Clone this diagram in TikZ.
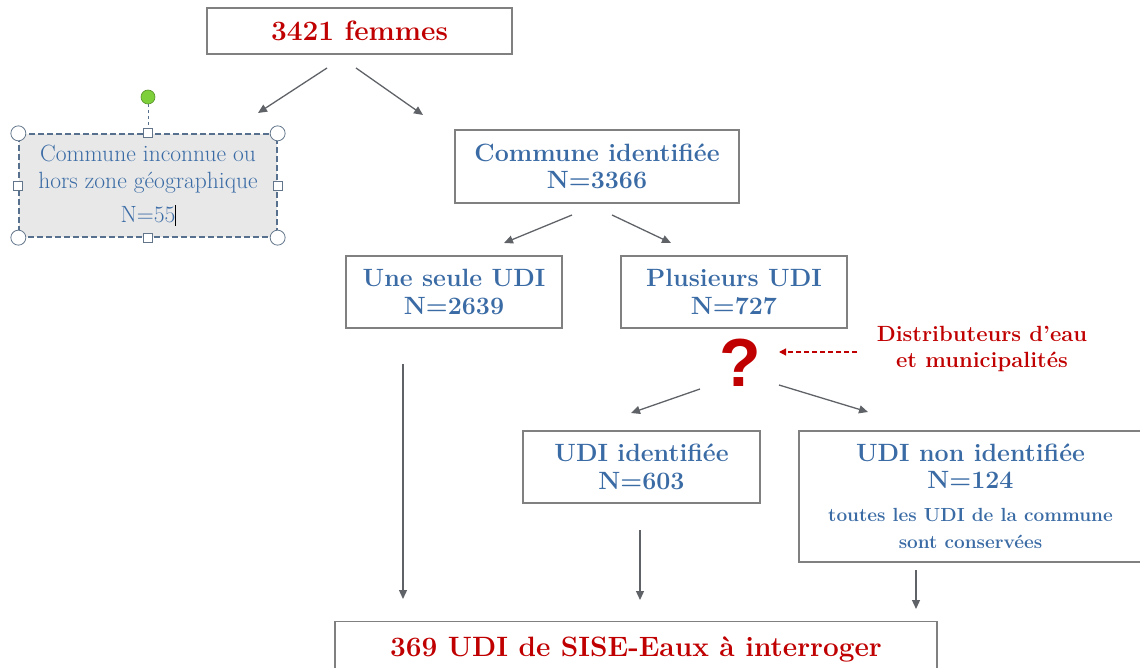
\documentclass[tikz,border=0pt]{standalone}
\usepackage{fontspec}
\newfontfamily\qfont{Liberation Sans}
\usetikzlibrary{arrows.meta}
\definecolor{tblue}{HTML}{3A6BA5}
\definecolor{tred}{HTML}{C00000}
\definecolor{boxgray}{HTML}{808080}
\definecolor{arrgray}{HTML}{5F6368}
\definecolor{selblue}{HTML}{56708E}
\definecolor{selfill}{HTML}{E8E8E8}
\definecolor{handlegreen}{HTML}{7ED03B}
\newcommand{\smalltxt}{\fontsize{19}{23}\selectfont}
\begin{document}
\begin{tikzpicture}[x=1pt,y=-1pt,
  box/.style={draw=boxgray, line width=1.4pt, fill=white, inner sep=0pt, align=center},
  bluetxt/.style={text=tblue, font=\fontsize{25}{27.5}\selectfont\bfseries},
  redtxt/.style={text=tred, font=\fontsize{28}{30}\selectfont\bfseries},
  arr/.style={draw=arrgray, line width=1.3pt, -{Triangle[length=9pt,width=8pt]}},
  handle/.style={draw=selblue!70!gray, fill=white, line width=0.8pt},
]
\useasboundingbox (0,0) rectangle (1140,668);

% boxes
\node[box, redtxt, minimum width=305pt, minimum height=46pt] (top) at (359.5,31) {3421 femmes};

\node[draw=selblue, dash pattern=on 6pt off 3pt, line width=1.3pt, fill=selfill, inner sep=0pt, align=center,
      minimum width=258pt, minimum height=103pt, text=tblue,
      font=\fontsize{23.5}{27}\selectfont] (left) at (148,185.5)
  {Commune inconnue ou\\hors zone géographique\\[7pt]N=55\rlap{\color{black}\rule[-3pt]{0.9pt}{21pt}}};

\node[box, bluetxt, minimum width=284pt, minimum height=73pt] (commune) at (597,166.5) {Commune identifiée\\N=3366};
\node[box, bluetxt, minimum width=216pt, minimum height=72pt] (une) at (454,292) {Une seule UDI\\N=2639};
\node[box, bluetxt, minimum width=226pt, minimum height=72pt] (plus) at (734,292) {Plusieurs UDI\\N=727};
\node[box, bluetxt, minimum width=237pt, minimum height=72pt] (udiid) at (641.5,467) {UDI identifiée\\N=603};
\node[box, bluetxt, minimum width=343pt, minimum height=131pt] (udinon) at (970.5,496.5)
  {UDI non identifiée\\N=124\\[5pt]\smalltxt toutes les UDI de la commune\\\smalltxt sont conservées};
\node[box, redtxt, minimum width=602pt, minimum height=56pt, anchor=north] (bottom) at (636,621)
  {\raisebox{4pt}{369 UDI de SISE-Eaux à interroger}};

% question mark and note
\node[text=tred, font=\qfont\fontsize{68}{68}\selectfont\bfseries, inner sep=0pt] (q) at (740,363) {?};
\node[text=tred, font=\fontsize{22}{26}\selectfont\bfseries, align=center, inner sep=0pt] (note) at (982,349)
  {Distributeurs d'eau\\et municipalités};

% selection handles on left box
\coordinate (rot) at (148,97);
\draw[selblue, dashed, line width=1pt] (148,104) -- (left.north);
\fill[handlegreen, draw=handlegreen!70!black, line width=0.6pt] (rot) circle (7pt);
\foreach \c in {north west, north east, south west, south east}
  \draw[handle] (left.\c) circle (7.5pt);
\foreach \c in {north, south, west, east}
  \draw[handle] ([xshift=-4.5pt,yshift=-4.5pt]left.\c) rectangle ([xshift=4.5pt,yshift=4.5pt]left.\c);

% arrow endpoints
\coordinate (a1s) at (327,68);  \coordinate (a1e) at (258,113);
\coordinate (a2s) at (356,68);  \coordinate (a2e) at (423,115);
\coordinate (a3s) at (572,215); \coordinate (a3e) at (504,243);
\coordinate (a4s) at (612,215); \coordinate (a4e) at (671,243);
\coordinate (a5s) at (700,389); \coordinate (a5e) at (631,413);
\coordinate (a6s) at (779,385); \coordinate (a6e) at (868,412);
\coordinate (a7s) at (403,364); \coordinate (a7e) at (403,599);
\coordinate (a8s) at (640,530); \coordinate (a8e) at (640,600);
\coordinate (a9s) at (916,570); \coordinate (a9e) at (916,609);
\coordinate (dns) at (857,352); \coordinate (dne) at (779,352);

\draw[arr] (a1s) -- (a1e);
\draw[arr] (a2s) -- (a2e);
\draw[arr] (a3s) -- (a3e);
\draw[arr] (a4s) -- (a4e);
\draw[arr] (a5s) -- (a5e);
\draw[arr] (a6s) -- (a6e);
\draw[arr] (a7s) -- (a7e);
\draw[arr] (a8s) -- (a8e);
\draw[arr] (a9s) -- (a9e);
\draw[tred, line width=1.2pt, dash pattern=on 5pt off 3pt, -{Triangle[length=7pt,width=7pt]}] (dns) -- (dne);
\end{tikzpicture}
\end{document}
